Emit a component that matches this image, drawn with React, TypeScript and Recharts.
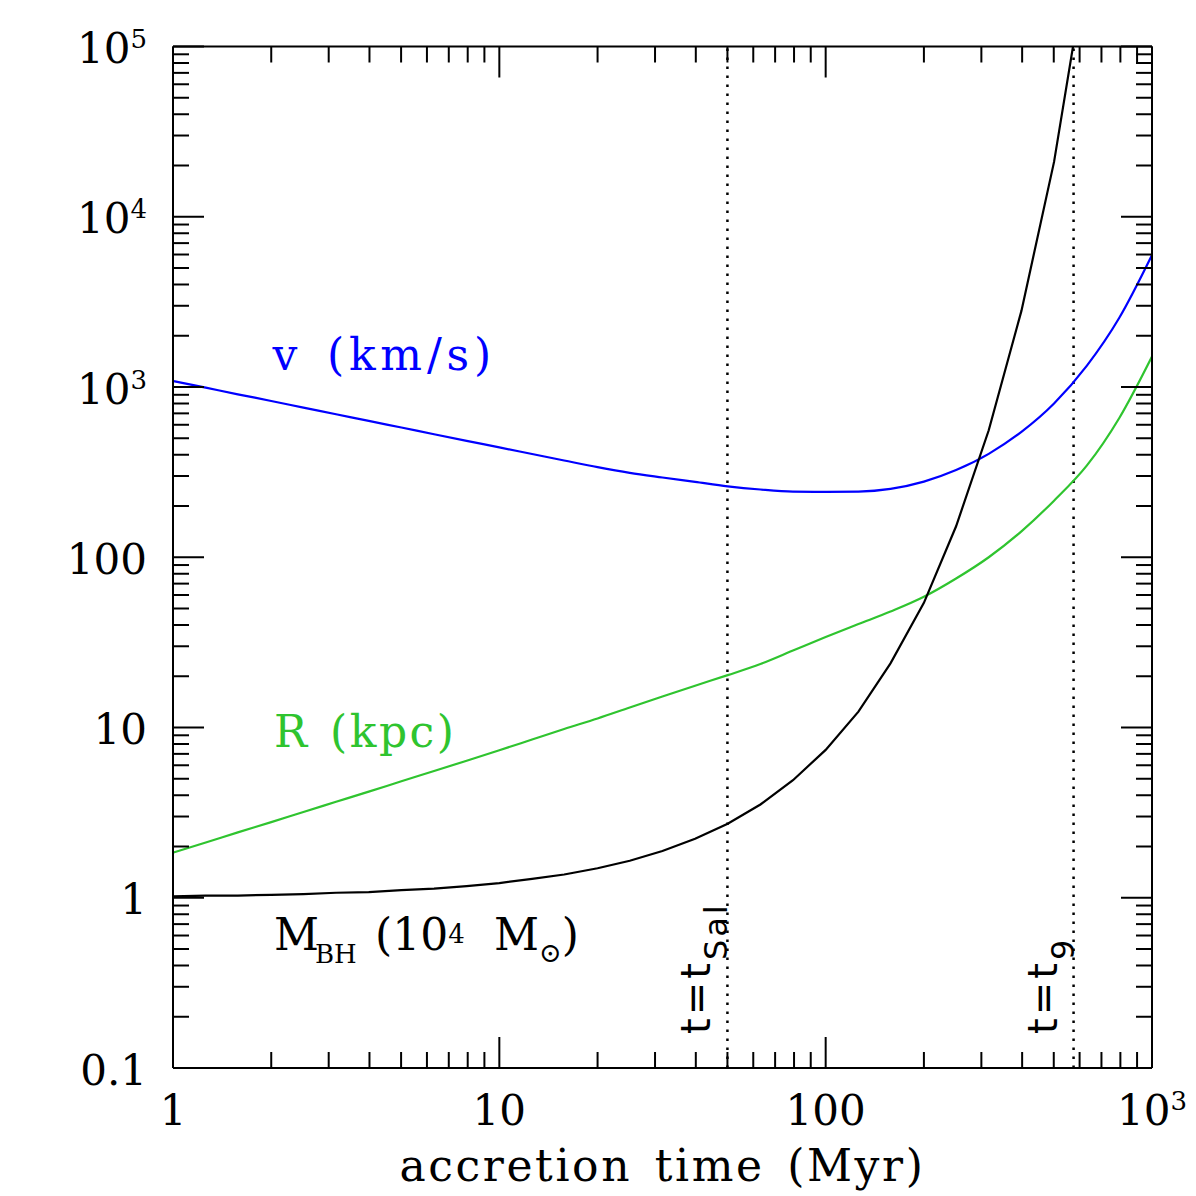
import React from "react";
import { LineChart, Line, XAxis, YAxis, ReferenceLine, Customized } from "recharts";

// Accretion time samples (Myr), spaced by 0.1 dex
const timeMyr = [
  1, 1.26, 1.58, 2, 2.51, 3.16, 3.98, 5.01, 6.31, 7.94, 10, 12.6, 15.8, 20, 25.1, 31.6,
  39.8, 50.1, 63.1, 79.4, 100, 126, 158, 200, 251, 316, 398, 501, 631, 794, 1000,
];
// Outflow velocity (km/s)
const velocityKms = [
  1085, 991, 906, 828, 757, 692, 632, 578, 528, 483, 442, 404, 370, 338, 313, 294,
  277, 261, 250, 243, 242, 243, 252, 278, 325, 405, 545, 800, 1330, 2550, 5960,
];
// Shell radius (kpc)
const radiusKpc = [
  1.84, 2.11, 2.42, 2.78, 3.19, 3.66, 4.2, 4.83, 5.55, 6.38, 7.35, 8.5, 9.8, 11.3, 13.1, 15.2,
  17.6, 20.3, 23.6, 28.3, 34, 40.5, 48, 58.6, 75, 100, 142, 215, 345, 658, 1510,
];
// Black hole mass (10^4 Msun)
const massBH = [
  1.02, 1.03, 1.03, 1.04, 1.05, 1.07, 1.08, 1.11, 1.13, 1.17, 1.22, 1.29, 1.37, 1.49, 1.65, 1.88,
  2.22, 2.72, 3.53, 4.9, 7.39, 12.4, 23.8, 54, 152, 557, 2800, 21000, 309000, null, null,
];

// Characteristic times (Myr)
const tSalpeter = 50;
const tNine = 575;

// Axis decades and their labels: [base, exponent]
const xMajor = [1, 10, 100, 1000];
const xMajorText = [["1", ""], ["10", ""], ["100", ""], ["10", "3"]];
const yMajor = [0.1, 1, 10, 100, 1000, 10000, 100000];
const yMajorText = [["0.1", ""], ["1", ""], ["10", ""], ["100", ""], ["10", "3"], ["10", "4"], ["10", "5"]];
const minorSteps = [2, 3, 4, 5, 6, 7, 8, 9];

const table = timeMyr.map((t, i) => ({
  t,
  v: velocityKms[i],
  r: radiusKpc[i],
  m: massBH[i],
}));

function logTicks(majors: number[]) {
  const out: number[] = [];
  majors.forEach((m, i) => {
    out.push(m);
    if (i < majors.length - 1) minorSteps.forEach((s) => out.push(+(m * s).toPrecision(6)));
  });
  return out;
}
const xTicks = logTicks(xMajor);
const yTicks = logTicks(yMajor);

const W = 1180;
const H = 1188;
const LEFT_W = 165;
const RIGHT_W = 36;
const TOP_H = 38.5;
const BOTTOM_H = 128;

const MAJOR_LEN = 31;
const MINOR_LEN = 16;
const SERIF = "'DejaVu Serif', serif";
const SANS = "'DejaVu Sans', sans-serif";
const LINE_W = 2;

type Side = "bottom" | "top" | "left" | "right";

function makeTick(side: Side, majors: number[], texts?: string[][]) {
  return (props: any) => {
    const { x, y, payload } = props;
    const v = payload.value;
    const idx = majors.findIndex((m) => Math.abs(m - v) / m < 1e-6);
    const len = idx >= 0 ? MAJOR_LEN : MINOR_LEN;
    let line: React.ReactNode = null;
    if (side === "bottom") line = <line x1={x} x2={x} y1={y} y2={y - len} stroke="#000" strokeWidth={LINE_W} />;
    if (side === "top") line = <line x1={x} x2={x} y1={y} y2={y + len} stroke="#000" strokeWidth={LINE_W} />;
    if (side === "left") line = <line x1={x} x2={x + len} y1={y} y2={y} stroke="#000" strokeWidth={LINE_W} />;
    if (side === "right") line = <line x1={x} x2={x - len} y1={y} y2={y} stroke="#000" strokeWidth={LINE_W} />;
    let label: React.ReactNode = null;
    if (texts && idx >= 0) {
      const [base, exp] = texts[idx];
      const sup = exp ? (
        <tspan dy={-15} fontSize={26}>
          {exp}
        </tspan>
      ) : null;
      if (side === "bottom") {
        label = (
          <text x={x} y={y + 57} textAnchor="middle" fontFamily={SERIF} fontSize={42} fill="#000">
            {base}
            {sup}
          </text>
        );
      }
      if (side === "left") {
        label = (
          <text x={x - 26} y={y + 16.5} textAnchor="end" fontFamily={SERIF} fontSize={42} fill="#000">
            {base}
            {sup}
          </text>
        );
      }
    }
    return (
      <g>
        {line}
        {label}
      </g>
    );
  };
}

// Vertical annotation placed along a reference line, reading upward
function RotatedLabel(props: any) {
  const { viewBox, main, sub } = props;
  if (!viewBox) return null;
  const px = viewBox.x - 17;
  const py = viewBox.y + viewBox.height - 34;
  return (
    <text
      x={px}
      y={py}
      transform={`rotate(-90 ${px} ${py})`}
      fontFamily={SANS}
      fontSize={40}
      letterSpacing={3}
      fill="#000"
    >
      {main}
      <tspan dy={17} fontSize={32}>
        {sub}
      </tspan>
    </text>
  );
}

function CurveLabels() {
  return (
    <g fontFamily={SERIF}>
      <text x={264.5} y={362} fontSize={44} letterSpacing={4.8} wordSpacing={6} fill="#0000ff">
        v (km/s)
      </text>
      <text x={266} y={739} fontSize={44} letterSpacing={2.5} wordSpacing={4} fill="#2fc42f">
        R (kpc)
      </text>
      <text y={942} fontSize={44} fill="#000">
        <tspan x={266}>M</tspan>
        <tspan x={307} dy={13} fontSize={26}>BH</tspan>
        <tspan x={367} dy={-13}>(10</tspan>
        <tspan fontSize={26} dy={-7}>4</tspan>
        <tspan x={486} dy={7}>M</tspan>
        <tspan fontSize={27} dy={12}>{"\u2299"}</tspan>
        <tspan dy={-12}>)</tspan>
      </text>
      <text
        x={LEFT_W + (W - LEFT_W - RIGHT_W) / 2}
        y={1173}
        textAnchor="middle"
        fontSize={44}
        letterSpacing={2.6}
        wordSpacing={6}
        fill="#000"
      >
        accretion time (Myr)
      </text>
    </g>
  );
}

export default function App() {
  return (
    <div style={{ width: W, height: H, background: "#fff" }}>
      <LineChart width={W} height={H} data={table} margin={{ top: 0, right: 0, bottom: 0, left: 0 }}>
        <XAxis
          xAxisId="b"
          dataKey="t"
          type="number"
          scale="log"
          domain={[1, 1000]}
          allowDataOverflow
          orientation="bottom"
          height={BOTTOM_H}
          ticks={xTicks}
          interval={0}
          tickSize={0}
          tickMargin={0}
          tickLine={false}
          axisLine={{ stroke: "#000", strokeWidth: LINE_W }}
          tick={makeTick("bottom", xMajor, xMajorText)}
        />
        <XAxis
          xAxisId="t"
          dataKey="t"
          type="number"
          scale="log"
          domain={[1, 1000]}
          allowDataOverflow
          orientation="top"
          height={TOP_H}
          ticks={xTicks}
          interval={0}
          tickSize={0}
          tickMargin={0}
          tickLine={false}
          axisLine={{ stroke: "#000", strokeWidth: LINE_W }}
          tick={makeTick("top", xMajor)}
        />
        <YAxis
          yAxisId="l"
          type="number"
          scale="log"
          domain={[0.1, 100000]}
          allowDataOverflow
          orientation="left"
          width={LEFT_W}
          ticks={yTicks}
          interval={0}
          tickSize={0}
          tickMargin={0}
          tickLine={false}
          axisLine={{ stroke: "#000", strokeWidth: LINE_W }}
          tick={makeTick("left", yMajor, yMajorText)}
        />
        <YAxis
          yAxisId="r"
          type="number"
          scale="log"
          domain={[0.1, 100000]}
          allowDataOverflow
          orientation="right"
          width={RIGHT_W}
          ticks={yTicks}
          interval={0}
          tickSize={0}
          tickMargin={0}
          tickLine={false}
          axisLine={{ stroke: "#000", strokeWidth: LINE_W }}
          tick={makeTick("right", yMajor)}
        />
        <ReferenceLine
          xAxisId="b"
          yAxisId="l"
          x={tSalpeter}
          stroke="#000"
          strokeWidth={2.5}
          strokeDasharray="2.5 6.5"
          label={<RotatedLabel main="t=t" sub="Sal" />}
        />
        <ReferenceLine
          xAxisId="b"
          yAxisId="l"
          x={tNine}
          stroke="#000"
          strokeWidth={2.5}
          strokeDasharray="2.5 6.5"
          label={<RotatedLabel main="t=t" sub="9" />}
        />
        <Line
          xAxisId="b"
          yAxisId="l"
          type="monotone"
          dataKey="v"
          stroke="#0000ff"
          strokeWidth={2.2}
          dot={false}
          isAnimationActive={false}
        />
        <Line
          xAxisId="b"
          yAxisId="l"
          type="monotone"
          dataKey="r"
          stroke="#2fc42f"
          strokeWidth={2.2}
          dot={false}
          isAnimationActive={false}
        />
        <Line
          xAxisId="b"
          yAxisId="l"
          dataKey="m"
          stroke="#000"
          strokeWidth={2.2}
          dot={false}
          isAnimationActive={false}
        />
        <Customized component={CurveLabels} />
      </LineChart>
    </div>
  );
}
